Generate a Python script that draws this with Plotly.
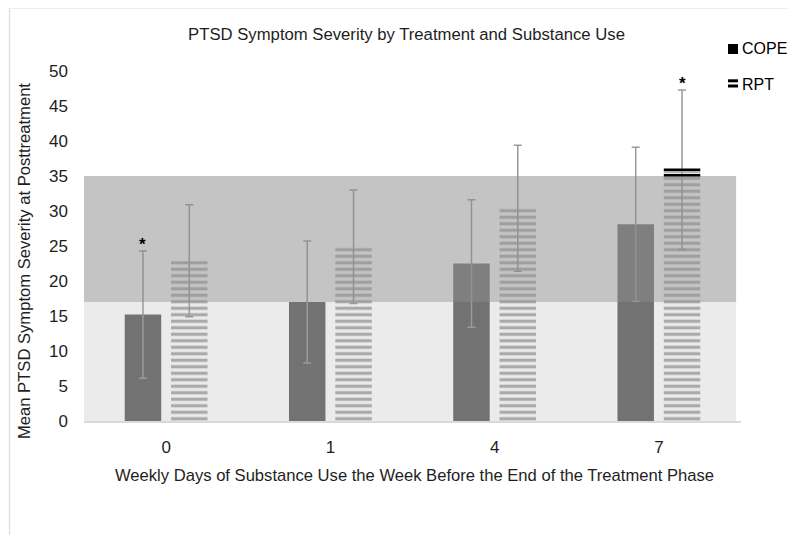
import plotly.graph_objects as go

# ---- data ----
categories = ["0", "1", "4", "7"]
cope_mean = [15.2, 17.0, 22.5, 28.1]
cope_sd = [9.1, 8.7, 9.1, 11.0]
rpt_mean = [22.9, 24.9, 30.4, 35.9]
rpt_sd = [8.0, 8.1, 9.0, 11.4]
band_edges = [0, 17, 35]
cope_sig = [True, False, False, False]
rpt_sig = [False, False, False, True]
series_names = ["COPE", "RPT"]

xpos = list(range(len(categories)))
BAR_W = 0.222
COPE_OFF = -0.252
RPT_OFF = 0.030

FONT = "Liberation Sans, Arial, sans-serif"
TXT = "#1e1e1e"

# page body has an 8px margin; compensate so that the figure lines up with the window
OFF = 8
W, H = 796 - OFF, 535 - OFF
L, T = 84 - OFF, 71 - OFF
R = W - (741 - OFF)
B = H - (421 - OFF)
PW, PH = W - L - R, H - T - B


def px_x(px):
    """window pixel x -> paper x"""
    return (px - OFF - L) / PW


def px_y(py):
    """window pixel y -> paper y"""
    return (H - B - (py - OFF)) / PH


fig = go.Figure()

err_style = dict(type="data", visible=True, color="#9a9a9a", thickness=1.5, width=4)

fig.add_trace(go.Bar(
    x=xpos, y=cope_mean, width=BAR_W, offset=COPE_OFF,
    marker=dict(color="#727272", line=dict(width=0)),
    error_y=dict(array=cope_sd, **err_style),
    showlegend=False, name=series_names[0]))

fig.add_trace(go.Bar(
    x=xpos, y=rpt_mean, width=BAR_W, offset=RPT_OFF,
    marker=dict(color="rgba(0,0,0,0)", line=dict(width=0),
                pattern=dict(shape="-", fgcolor="#6a6a6a", bgcolor="rgba(0,0,0,0)",
                             size=6.5, solidity=0.5, fillmode="overlay")),
    error_y=dict(array=rpt_sd, **err_style),
    showlegend=False, name=series_names[1]))

shapes = []
# light band (below)
shapes.append(dict(type="rect", xref="x", yref="y", x0=-0.5, x1=3.47,
                   y0=band_edges[0], y1=band_edges[1], fillcolor="#ebebeb",
                   line=dict(width=0), layer="below"))
# dark band (overlay)
shapes.append(dict(type="rect", xref="x", yref="y", x0=-0.5, x1=3.47,
                   y0=band_edges[1], y1=band_edges[2], fillcolor="rgba(140,140,140,0.51)",
                   line=dict(width=0), layer="above"))
# black top stripes on highest RPT bar
i_top = rpt_mean.index(max(rpt_mean))
for dy in (0, 0.8):
    shapes.append(dict(type="line", xref="x", yref="y",
                       x0=xpos[i_top] + RPT_OFF, x1=xpos[i_top] + RPT_OFF + BAR_W,
                       y0=rpt_mean[i_top] - dy, y1=rpt_mean[i_top] - dy,
                       line=dict(color="#000000", width=2.5), layer="above"))
# chart frame (only top and left edges visible)
shapes.append(dict(type="rect", xref="paper", yref="paper", x0=px_x(9.5), x1=px_x(830),
                   y0=px_y(570), y1=px_y(8), line=dict(color="#dedede", width=1.2),
                   fillcolor="rgba(0,0,0,0)", layer="below"))

# manual legend keys
shapes.append(dict(type="rect", xref="paper", yref="paper", x0=px_x(728), x1=px_x(738),
                   y0=px_y(54), y1=px_y(44), fillcolor="#000000", line=dict(width=0)))
shapes.append(dict(type="rect", xref="paper", yref="paper", x0=px_x(728), x1=px_x(738),
                   y0=px_y(82.3), y1=px_y(79.3), fillcolor="#000000", line=dict(width=0)))
shapes.append(dict(type="rect", xref="paper", yref="paper", x0=px_x(728), x1=px_x(738),
                   y0=px_y(87.5), y1=px_y(84.5), fillcolor="#000000", line=dict(width=0)))

annotations = [
    dict(xref="paper", yref="paper", x=px_x(740), y=px_y(49), text=series_names[0],
         showarrow=False, xanchor="left", yanchor="middle",
         font=dict(size=16, color="#000", family=FONT)),
    dict(xref="paper", yref="paper", x=px_x(740), y=px_y(84), text=series_names[1],
         showarrow=False, xanchor="left", yanchor="middle",
         font=dict(size=16, color="#000", family=FONT)),
    # axis titles
    dict(xref="paper", yref="paper", x=px_x(414), y=px_y(475),
         text="Weekly Days of Substance Use the Week Before the End of the Treatment Phase",
         showarrow=False, xanchor="center", yanchor="middle",
         font=dict(size=16.6, color=TXT, family=FONT)),
    dict(xref="paper", yref="paper", x=px_x(24), y=px_y(261),
         text="Mean PTSD Symptom Severity at Posttreatment", textangle=-90,
         showarrow=False, xanchor="center", yanchor="middle",
         font=dict(size=16.6, color=TXT, family=FONT)),
]
for i, s in enumerate(cope_sig):
    if s:
        annotations.append(dict(x=xpos[i] + COPE_OFF + BAR_W / 2, y=cope_mean[i] + cope_sd[i],
                                text="<b>*</b>", showarrow=False, yanchor="bottom", yshift=-5,
                                font=dict(size=17, color="#000", family=FONT)))
for i, s in enumerate(rpt_sig):
    if s:
        annotations.append(dict(x=xpos[i] + RPT_OFF + BAR_W / 2, y=rpt_mean[i] + rpt_sd[i],
                                text="<b>*</b>", showarrow=False, yanchor="bottom", yshift=-5,
                                font=dict(size=17, color="#000", family=FONT)))

fig.update_layout(
    width=W, height=H,
    margin=dict(l=L, r=R, t=T, b=B, autoexpand=False),
    paper_bgcolor="white", plot_bgcolor="white",
    font=dict(family=FONT, color=TXT, size=16),
    title=dict(text="PTSD Symptom Severity by Treatment and Substance Use",
               x=(406.5 - OFF) / W, xanchor="center", y=1 - (34 - OFF) / H, yanchor="middle",
               font=dict(size=16.7, color=TXT, family=FONT)),
    barmode="overlay",
    showlegend=False,
    shapes=shapes, annotations=annotations,
    xaxis=dict(tickmode="array", tickvals=xpos, ticktext=categories,
               range=[-0.5, 3.5], showgrid=False, zeroline=False,
               showline=True, linecolor="#d9d9d9", linewidth=1.5,
               ticks="", ticklabelstandoff=10, tickfont=dict(size=17, color=TXT)),
    yaxis=dict(range=[0, 50], tickvals=list(range(0, 51, 5)), showgrid=False,
               zeroline=False, showline=False, ticks="", ticklabelstandoff=15,
               tickfont=dict(size=17, color=TXT)),
)

fig.write_html("out.html")
